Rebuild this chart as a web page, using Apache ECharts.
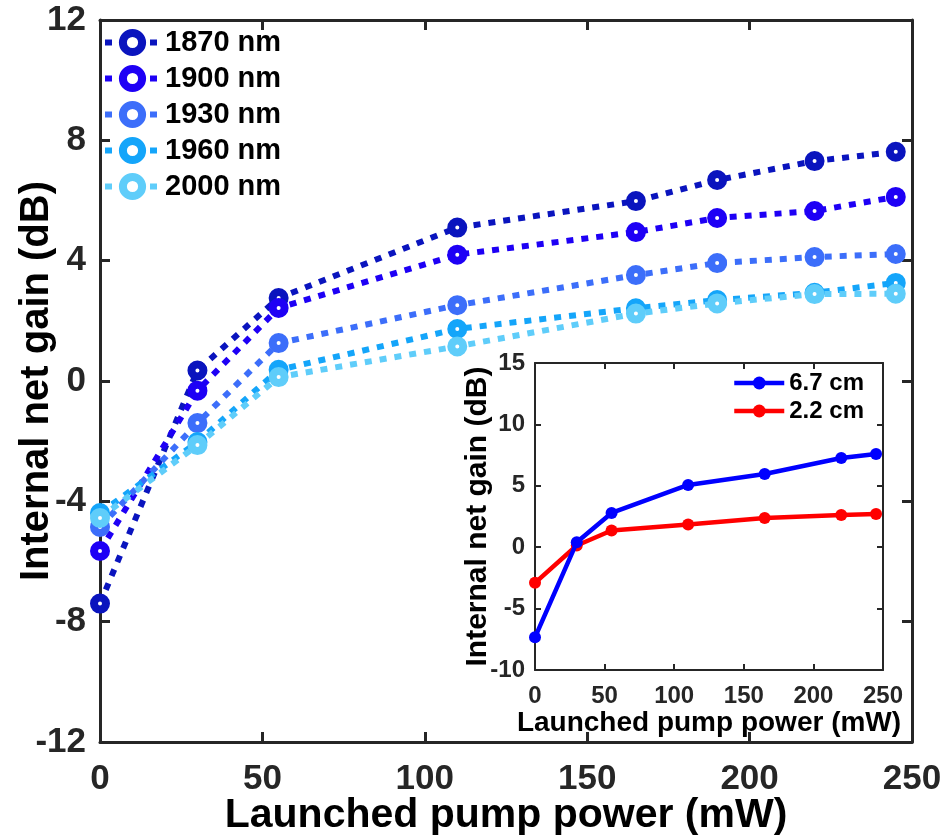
<!DOCTYPE html>
<html>
<head>
<meta charset="utf-8">
<script src="https://cdn.jsdelivr.net/npm/echarts@6/dist/echarts.min.js"></script>
<style>
html,body{margin:0;padding:0;background:#fff;}
#chart{width:946px;height:840px;}
</style>
</head>
<body>
<div id="chart"></div>
<script>
// ---- Data ----
const xMain = [0, 30, 55, 110, 165, 190, 220, 245];
const g1870 = [-7.4, 0.35, 2.76, 5.1, 5.98, 6.68, 7.31, 7.62];
const g1900 = [-5.65, -0.32, 2.43, 4.2, 4.95, 5.42, 5.65, 6.12];
const g1930 = [-4.85, -1.4, 1.26, 2.52, 3.52, 3.92, 4.12, 4.22];
const g1960 = [-4.39, -2.03, 0.37, 1.73, 2.42, 2.69, 2.93, 3.26];
const g2000 = [-4.55, -2.13, 0.13, 1.15, 2.24, 2.58, 2.89, 2.9];
const mainNames = ['1870 nm', '1900 nm', '1930 nm', '1960 nm', '2000 nm'];

const xInset = [0, 30, 55, 110, 165, 220, 245];
const g67 = [-7.34, 0.4, 2.79, 5.07, 5.96, 7.26, 7.59];
const g22 = [-2.9, 0.14, 1.36, 1.84, 2.38, 2.63, 2.71];
const insetNames = ['6.7 cm', '2.2 cm'];

const xTitle = 'Launched pump power (mW)';
const yTitle = 'Internal net gain (dB)';

// ---- Styles ----
const FONT = "'Liberation Sans', Arial, sans-serif";
const AX = '#262626';
const mainColors = ['#0A14BE', '#1E00F5', '#3C6EFA', '#14A5FA', '#5FCDFA'];
const insetColors = ['#0000FF', '#FF0000'];

function pairs(xs, ys) { return xs.map((x, i) => [x, ys[i]]); }

function axisCommon(lw, fs, show, tickLen) {
  return {
    nameMoveOverlap: false,
    axisLine: { show: true, onZero: false, lineStyle: { color: AX, width: lw } },
    axisTick: { show: true, inside: true, length: tickLen, lineStyle: { color: AX, width: lw } },
    axisLabel: { show: show, fontSize: fs, fontWeight: 'bold', fontFamily: FONT, color: AX },
    splitLine: { show: false }
  };
}

const mainSeriesData = [g1870, g1900, g1930, g1960, g2000];

const series = mainSeriesData.map((g, i) => ({
  name: mainNames[i],
  type: 'line',
  xAxisIndex: 0,
  yAxisIndex: 0,
  data: pairs(xMain, g),
  symbol: 'circle',
  symbolSize: 12,
  itemStyle: { color: '#ffffff', borderColor: mainColors[i], borderWidth: 8 },
  lineStyle: { color: mainColors[i], width: 6, type: [7, 8], cap: 'butt' },
  z: 3 + i
}));

[g67, g22].forEach((g, i) => {
  series.push({
    name: insetNames[i],
    type: 'line',
    xAxisIndex: 2,
    yAxisIndex: 2,
    data: pairs(xInset, g),
    symbol: 'circle',
    symbolSize: 12,
    itemStyle: { color: insetColors[i] },
    lineStyle: { color: insetColors[i], width: 4.5 },
    z: 20 + (1 - i)
  });
});

const option = {
  animation: false,
  backgroundColor: '#fff',
  grid: [
    { left: 100, right: 34, top: 20, bottom: 98, containLabel: false, outerBoundsMode: 'none' },
    { left: 535, right: 63, top: 363, bottom: 170, containLabel: false, outerBoundsMode: 'none', show: true, backgroundColor: '#fff', borderWidth: 0, z: 10 }
  ],
  xAxis: [
    Object.assign({ gridIndex: 0, type: 'value', min: 0, max: 250, interval: 50, position: 'bottom',
      name: xTitle, nameLocation: 'middle', nameGap: 53,
      nameTextStyle: { fontSize: 41, fontWeight: 'bold', fontFamily: FONT, color: '#000' } },
      axisCommon(3, 35, true, 10), { axisLabel: { show: true, fontSize: 35, fontWeight: 'bold', fontFamily: FONT, color: AX, margin: 20 } }),
    Object.assign({ gridIndex: 0, type: 'value', min: 0, max: 250, interval: 50, position: 'top' }, axisCommon(3, 35, false, 10)),
    Object.assign({ gridIndex: 1, type: 'value', min: 0, max: 250, interval: 50, position: 'bottom',
      name: xTitle, nameLocation: 'middle', nameGap: 39,
      nameTextStyle: { fontSize: 28, fontWeight: 'bold', fontFamily: FONT, color: '#000' }, z: 11 },
      axisCommon(2, 23, true, 6), { axisLabel: { show: true, fontSize: 24, fontWeight: 'bold', fontFamily: FONT, color: AX, margin: 14 } }),
    Object.assign({ gridIndex: 1, type: 'value', min: 0, max: 250, interval: 50, position: 'top', z: 11 }, axisCommon(2, 23, false, 6))
  ],
  yAxis: [
    Object.assign({ gridIndex: 0, type: 'value', min: -12, max: 12, interval: 4, position: 'left',
      name: yTitle, nameLocation: 'middle', nameGap: 43,
      nameTextStyle: { fontSize: 40, fontWeight: 'bold', fontFamily: FONT, color: '#000' } },
      axisCommon(3, 34, true, 10), { axisLabel: { show: true, fontSize: 35, fontWeight: 'bold', fontFamily: FONT, color: AX, margin: 14 } }),
    Object.assign({ gridIndex: 0, type: 'value', min: -12, max: 12, interval: 4, position: 'right' }, axisCommon(3, 34, false, 10)),
    Object.assign({ gridIndex: 1, type: 'value', min: -10, max: 15, interval: 5, position: 'left',
      name: yTitle, nameLocation: 'middle', nameGap: 42,
      nameTextStyle: { fontSize: 30, fontWeight: 'bold', fontFamily: FONT, color: '#000' }, z: 11 },
      axisCommon(2, 23, true, 6), { axisLabel: { show: true, fontSize: 24, fontWeight: 'bold', fontFamily: FONT, color: AX, margin: 10 } }),
    Object.assign({ gridIndex: 1, type: 'value', min: -10, max: 15, interval: 5, position: 'right', z: 11 }, axisCommon(2, 23, false, 6))
  ],
  legend: [
    {
      data: mainNames,
      orient: 'vertical',
      left: 97, top: 23,
      itemWidth: 55, itemHeight: 24, itemGap: 7,
      lineStyle: { width: 6, type: [7, 8], cap: 'butt' },
      itemStyle: { borderWidth: 8 },
      textStyle: { fontSize: 29, fontWeight: 'bold', fontFamily: FONT, color: '#000', lineHeight: 24 }
    },
    {
      data: insetNames,
      orient: 'vertical',
      left: 727, top: 366,
      itemWidth: 50, itemHeight: 16, itemGap: 4,
      z: 30,
      lineStyle: { width: 4.5 },
      textStyle: { fontSize: 24, fontWeight: 'bold', fontFamily: FONT, color: '#000', lineHeight: 16 }
    }
  ],
  series: series
};

const chart = echarts.init(document.getElementById('chart'), null, { renderer: 'canvas' });
chart.setOption(option);
</script>
</body>
</html>
